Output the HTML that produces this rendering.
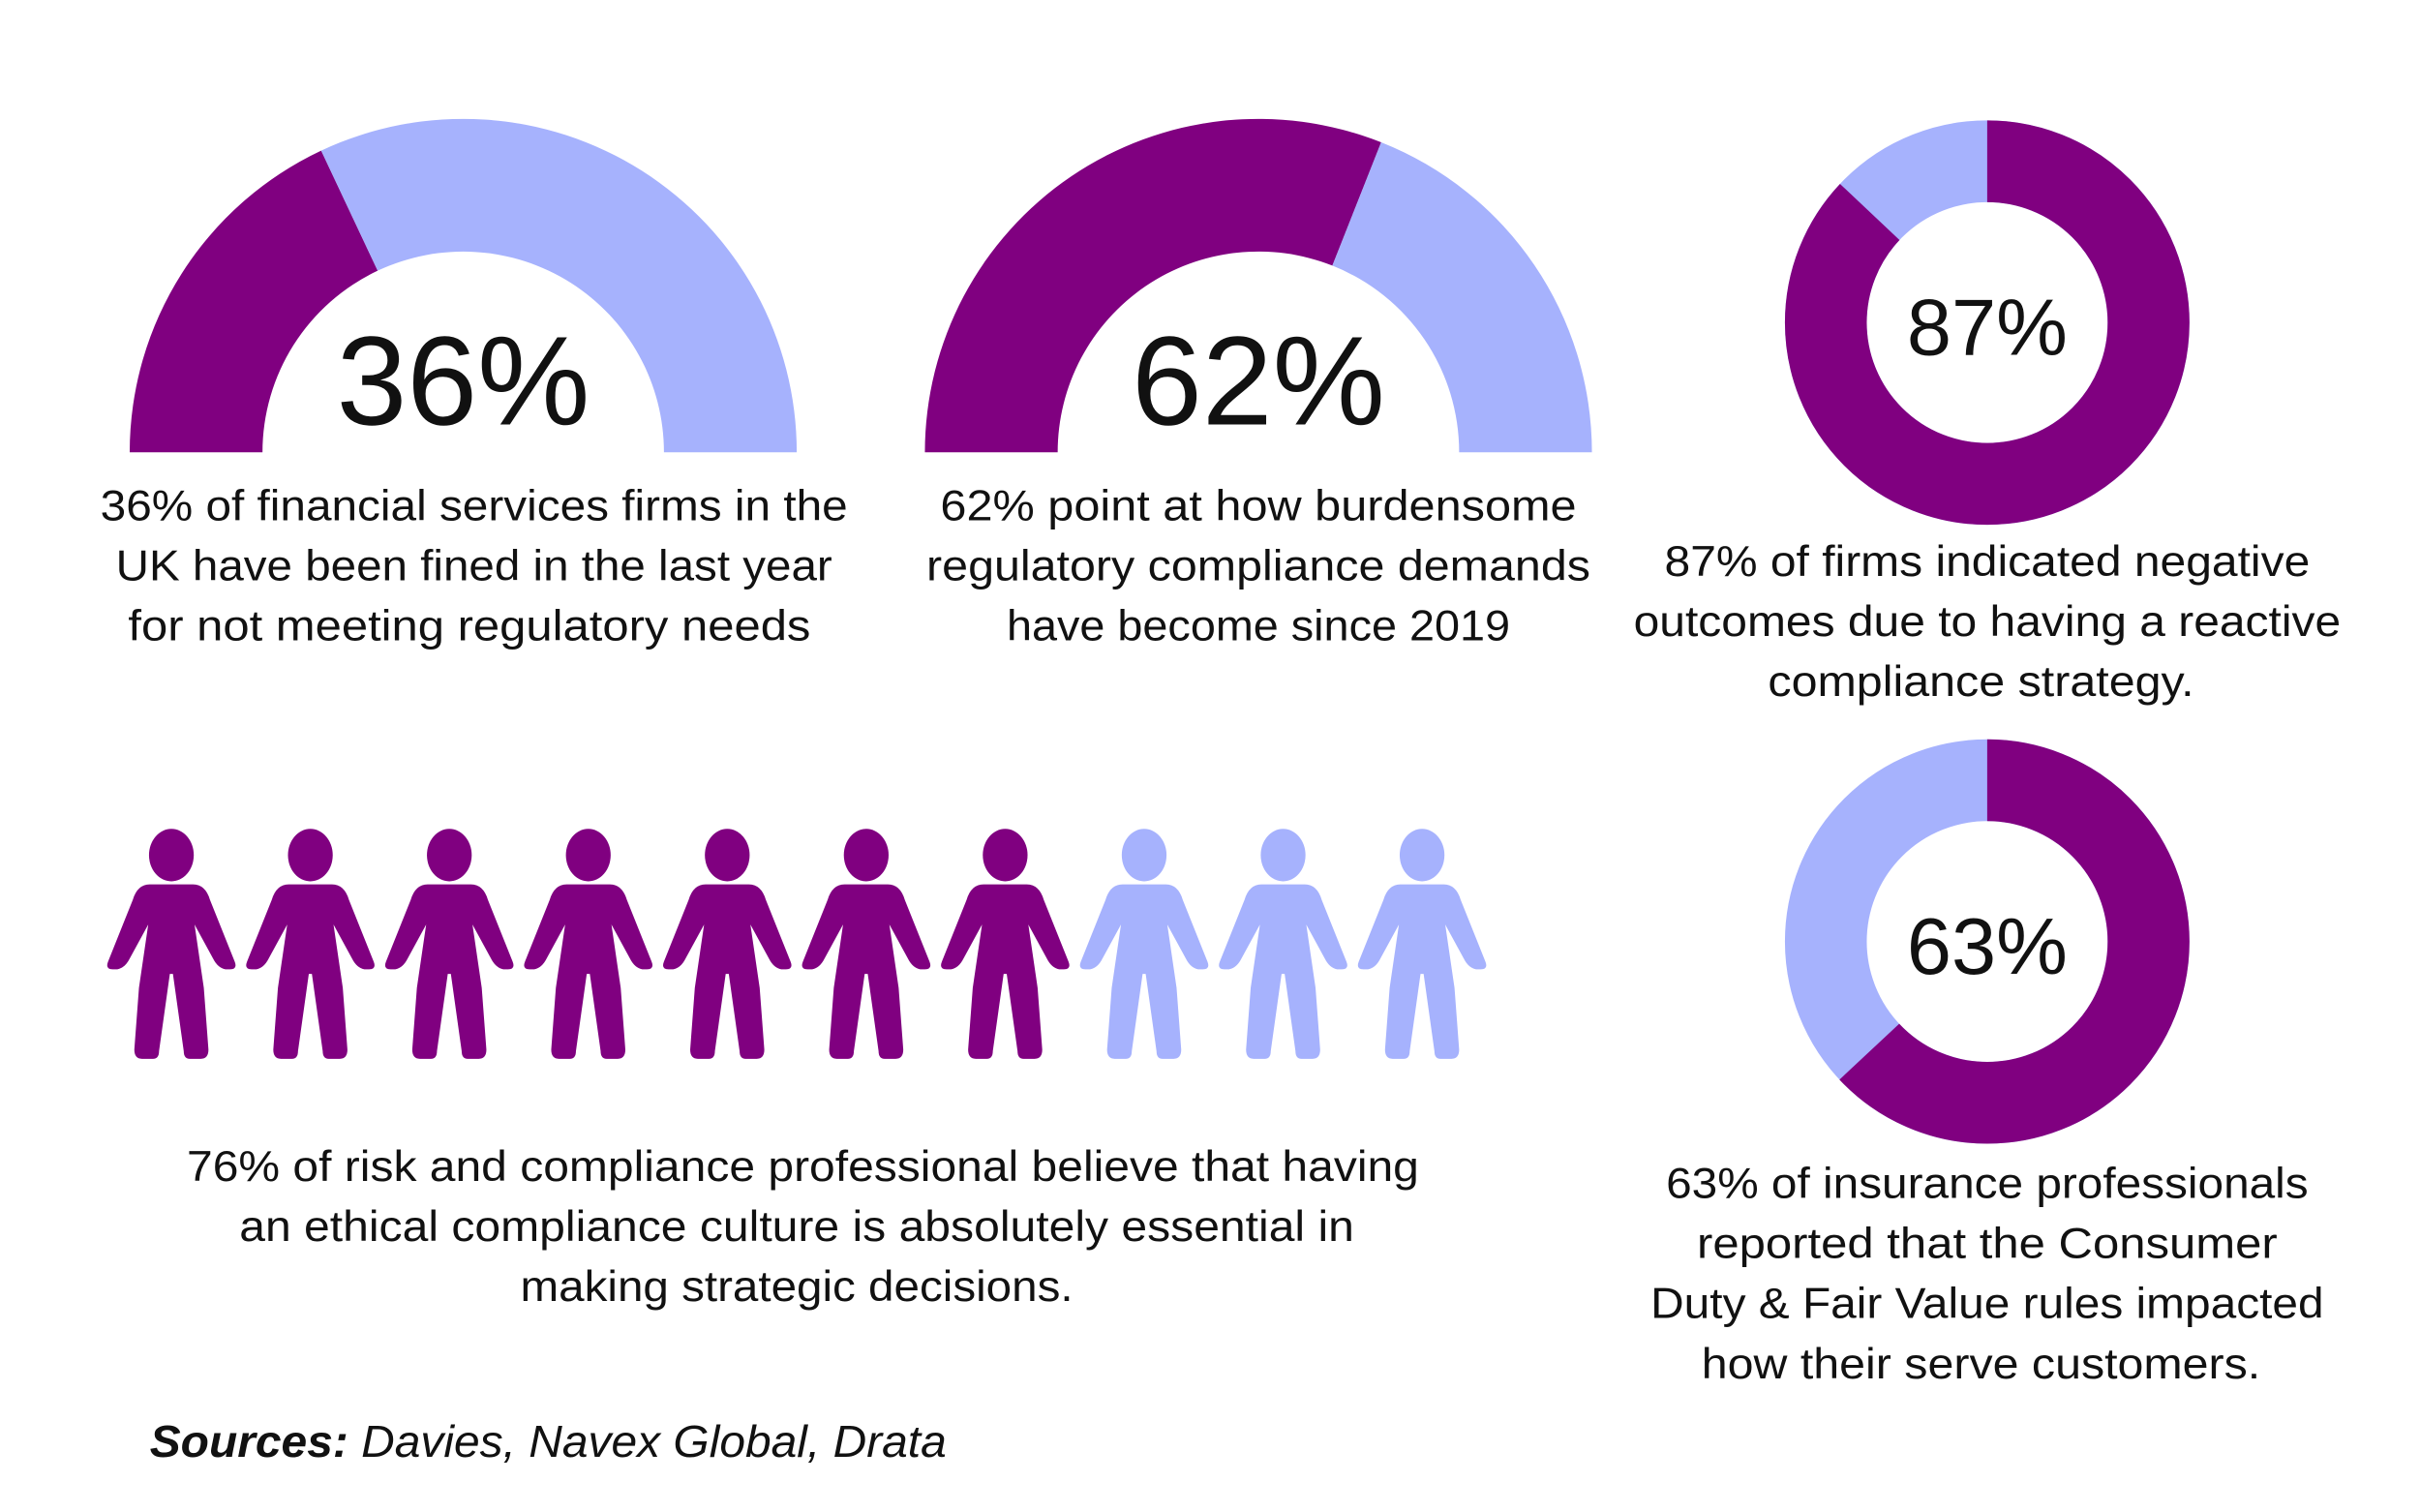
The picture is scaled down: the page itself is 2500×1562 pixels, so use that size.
<!DOCTYPE html>
<html><head><meta charset="utf-8"><style>
html,body{margin:0;padding:0;background:#fff;}
svg{display:block;}
text{font-family:"Liberation Sans",sans-serif;fill:#111;}
</style></head><body>
<svg width="2500" height="1562" viewBox="0 0 1567.3 979.6" preserveAspectRatio="none" xmlns="http://www.w3.org/2000/svg">
<defs>
<path id="fig" d="M -14 573 H 14 Q 22 573 25 583 L 41 623 Q 43 628 38 628 L 35 628 Q 30 627 27 621 L 15 599 L 21 640 L 24 680 Q 24 686 19 686 L 12 686 Q 8 686 8 681 L 1 631 L -1 631 L -8 681 Q -8 686 -12 686 L -19 686 Q -24 686 -24 680 L -21 640 L -15 599 L -27 621 Q -30 627 -35 628 L -38 628 Q -43 628 -41 623 L -25 583 Q -22 573 -14 573 Z"/>
</defs>
<path d="M 84 293 A 216 216 0 0 1 208 97.6 L 244.6 175.4 A 130 130 0 0 0 170 293 Z" fill="#800080"/>
<path d="M 208 97.6 A 216 216 0 0 1 516 293 L 430 293 A 130 130 0 0 0 244.6 175.4 Z" fill="#a6b2fd"/>
<text x="300" y="275" font-size="82" text-anchor="middle">36%</text>
<path d="M 599 293 A 216 216 0 0 1 894.5 92.2 L 862.9 172.1 A 130 130 0 0 0 685 293 Z" fill="#800080"/>
<path d="M 894.5 92.2 A 216 216 0 0 1 1031 293 L 945 293 A 130 130 0 0 0 862.9 172.1 Z" fill="#a6b2fd"/>
<text x="815" y="275" font-size="82" text-anchor="middle">62%</text>
<circle cx="1287" cy="209" r="104.5" fill="none" stroke="#a6b2fd" stroke-width="53"/>
<circle cx="1287" cy="209" r="104.5" fill="none" stroke="#800080" stroke-width="53" stroke-dasharray="571.2 1000" transform="rotate(-90 1287 209)"/>
<text x="1287" y="230" font-size="52" text-anchor="middle">87%</text>
<circle cx="1287" cy="610" r="104.5" fill="none" stroke="#a6b2fd" stroke-width="53"/>
<circle cx="1287" cy="610" r="104.5" fill="none" stroke="#800080" stroke-width="53" stroke-dasharray="413.7 1000" transform="rotate(-90 1287 610)"/>
<text x="1287" y="631" font-size="52" text-anchor="middle">63%</text>
<g font-size="28" text-anchor="middle">
<text x="307" y="337" textLength="484" lengthAdjust="spacingAndGlyphs">36% of financial services firms in the</text>
<text x="307" y="376" textLength="464" lengthAdjust="spacingAndGlyphs">UK have been fined in the last year</text>
<text x="304" y="415" textLength="442" lengthAdjust="spacingAndGlyphs">for not meeting regulatory needs</text>
<text x="815" y="337" textLength="412" lengthAdjust="spacingAndGlyphs">62% point at how burdensome</text>
<text x="815" y="376" textLength="430" lengthAdjust="spacingAndGlyphs">regulatory compliance demands</text>
<text x="815" y="415" textLength="326" lengthAdjust="spacingAndGlyphs">have become since 2019</text>
<text x="1287" y="373" textLength="418" lengthAdjust="spacingAndGlyphs">87% of firms indicated negative</text>
<text x="1287" y="412" textLength="458" lengthAdjust="spacingAndGlyphs">outcomes due to having a reactive</text>
<text x="1283" y="451" textLength="276" lengthAdjust="spacingAndGlyphs">compliance strategy.</text>
<text x="520" y="765" textLength="798" lengthAdjust="spacingAndGlyphs">76% of risk and compliance professional believe that having</text>
<text x="516" y="804" textLength="722" lengthAdjust="spacingAndGlyphs">an ethical compliance culture is absolutely essential in</text>
<text x="516" y="843" textLength="358" lengthAdjust="spacingAndGlyphs">making strategic decisions.</text>
<text x="1287" y="776" textLength="416" lengthAdjust="spacingAndGlyphs">63% of insurance professionals</text>
<text x="1287" y="815" textLength="376" lengthAdjust="spacingAndGlyphs">reported that the Consumer</text>
<text x="1287" y="854" textLength="436" lengthAdjust="spacingAndGlyphs">Duty &amp; Fair Value rules impacted</text>
<text x="1283" y="893" textLength="362" lengthAdjust="spacingAndGlyphs">how their serve customers.</text>
</g>
<text x="97" y="944" font-size="29" font-style="italic" textLength="516" lengthAdjust="spacingAndGlyphs"><tspan font-weight="bold">Sources:</tspan> Davies, Navex Global, Drata</text>
<g fill="#800080">
<g transform="translate(111 0)"><ellipse cx="0" cy="554" rx="14.5" ry="17"/><use href="#fig"/></g>
<g transform="translate(201 0)"><ellipse cx="0" cy="554" rx="14.5" ry="17"/><use href="#fig"/></g>
<g transform="translate(291 0)"><ellipse cx="0" cy="554" rx="14.5" ry="17"/><use href="#fig"/></g>
<g transform="translate(381 0)"><ellipse cx="0" cy="554" rx="14.5" ry="17"/><use href="#fig"/></g>
<g transform="translate(471 0)"><ellipse cx="0" cy="554" rx="14.5" ry="17"/><use href="#fig"/></g>
<g transform="translate(561 0)"><ellipse cx="0" cy="554" rx="14.5" ry="17"/><use href="#fig"/></g>
<g transform="translate(651 0)"><ellipse cx="0" cy="554" rx="14.5" ry="17"/><use href="#fig"/></g>
</g>
<g fill="#a6b2fd">
<g transform="translate(741 0)"><ellipse cx="0" cy="554" rx="14.5" ry="17"/><use href="#fig"/></g>
<g transform="translate(831 0)"><ellipse cx="0" cy="554" rx="14.5" ry="17"/><use href="#fig"/></g>
<g transform="translate(921 0)"><ellipse cx="0" cy="554" rx="14.5" ry="17"/><use href="#fig"/></g>
</g>
</svg>
</body></html>
